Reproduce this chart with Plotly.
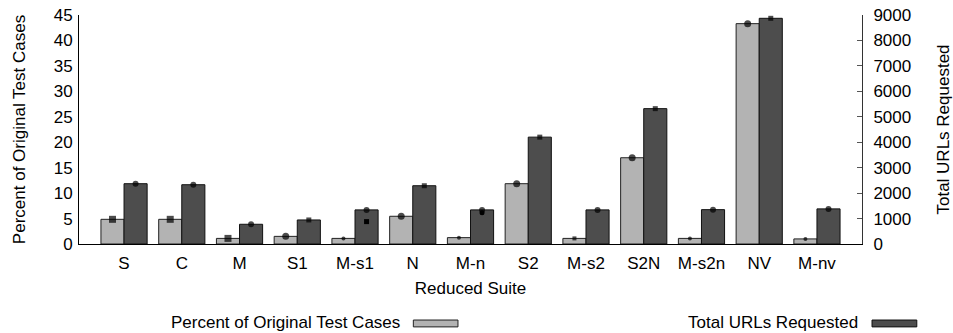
import plotly.graph_objects as go

categories = ["S", "C", "M", "S1", "M-s1", "N", "M-n", "S2", "M-s2", "S2N", "M-s2n", "NV", "M-nv"]
pct_cases = [4.85, 4.85, 1.1, 1.5, 1.1, 5.45, 1.25, 11.85, 1.1, 16.95, 1.1, 43.3, 1.0]
total_urls = [2370, 2330, 775, 945, 1340, 2290, 1340, 4200, 1340, 5320, 1350, 8870, 1380]

# extra observation markers on the URL bars (secondary points)
extra_url_cats = ["M-s1", "M-n"]
extra_url_vals = [880, 1230]

pct_symbols = ["square", "square", "square", "circle", "circle", "circle", "circle",
               "circle", "square", "circle", "circle", "circle", "circle"]
pct_sizes = [7, 7, 7, 7, 4, 7, 4, 7, 4, 7, 4, 7, 4]
url_symbols = ["circle", "circle", "circle", "square", "circle", "square", "circle",
               "square", "circle", "square", "circle", "square", "circle"]
url_sizes = [6, 6, 6, 5, 6, 5, 6, 5, 6, 5, 6, 5, 6]
extra_symbols = ["square", "circle"]

idx = list(range(len(categories)))
cat_index = {c: i for i, c in enumerate(categories)}
W = 0.4

LIGHT = "#b3b3b3"
DARK = "#4d4d4d"
FONT = "Liberation Sans, Arial, sans-serif"
FS = 17

fig = go.Figure()
fig.add_trace(go.Bar(x=idx, y=pct_cases, width=W, offset=-W, marker=dict(color=LIGHT, line=dict(color="#222222", width=1)),
                     name="Percent of Original Test Cases", yaxis="y"))
fig.add_trace(go.Bar(x=idx, y=total_urls, width=W, offset=0, marker=dict(color=DARK, line=dict(color="#111111", width=1)),
                     name="Total URLs Requested", yaxis="y2"))
fig.add_trace(go.Scatter(x=[i - W / 2 for i in idx], y=pct_cases, mode="markers", yaxis="y",
                         marker=dict(color="black", symbol=pct_symbols, size=pct_sizes, line=dict(width=0)), showlegend=False))
fig.add_trace(go.Scatter(x=[i + W / 2 for i in idx], y=total_urls, mode="markers", yaxis="y2",
                         marker=dict(color="black", symbol=url_symbols, size=url_sizes, line=dict(width=0)), showlegend=False))
fig.add_trace(go.Scatter(x=[cat_index[c] + W / 2 for c in extra_url_cats], y=extra_url_vals, mode="markers", yaxis="y2",
                         marker=dict(color="black", symbol=extra_symbols, size=5, line=dict(width=0)), showlegend=False))

fig.update_layout(
    width=953, height=333,
    margin=dict(l=79, r=91, t=15, b=89),
    paper_bgcolor="white", plot_bgcolor="white",
    showlegend=False,
    font=dict(family=FONT, size=FS, color="black"),
    bargap=0.2,
    xaxis=dict(range=[-0.78, 12.78], tickvals=idx, ticktext=categories, showline=True, linecolor="black",
               linewidth=1, ticks="", showgrid=False, zeroline=False, tickfont=dict(size=FS),
               ticklabelstandoff=4, automargin=False,
               title=dict(text="Reduced Suite", font=dict(size=FS), standoff=9)),
    yaxis=dict(range=[0, 45], dtick=5, showline=True, linecolor="black", linewidth=1, ticks="",
               showgrid=False, zeroline=False, tickfont=dict(size=FS), ticklabelstandoff=2, automargin=False,
               title=dict(text="Percent of Original Test Cases", font=dict(size=FS), standoff=23)),
    yaxis2=dict(range=[0, 9000], dtick=1000, overlaying="y", side="right", showline=True, linecolor="#333333",
                linewidth=1, ticks="inside", ticklen=5, tickcolor="#555555", showgrid=False, zeroline=False,
                tickfont=dict(size=FS), ticklabelstandoff=7, automargin=False,
                title=dict(text="Total URLs Requested", font=dict(size=FS), standoff=29)),
)

# legend drawn below the plot
fig.add_annotation(xref="paper", yref="paper", x=0.4125, y=-0.341, text="Percent of Original Test Cases",
                   showarrow=False, xanchor="right", yanchor="middle", font=dict(size=FS))
fig.add_shape(type="rect", xref="paper", yref="paper", x0=0.427, x1=0.484, y0=-0.362, y1=-0.332,
              fillcolor=LIGHT, line=dict(color="#222222", width=1))
fig.add_annotation(xref="paper", yref="paper", x=0.9974, y=-0.341, text="Total URLs Requested",
                   showarrow=False, xanchor="right", yanchor="middle", font=dict(size=FS))
fig.add_shape(type="rect", xref="paper", yref="paper", x0=1.0128, x1=1.070, y0=-0.362, y1=-0.332,
              fillcolor=DARK, line=dict(color="#111111", width=1))

fig.write_html("out.html")
